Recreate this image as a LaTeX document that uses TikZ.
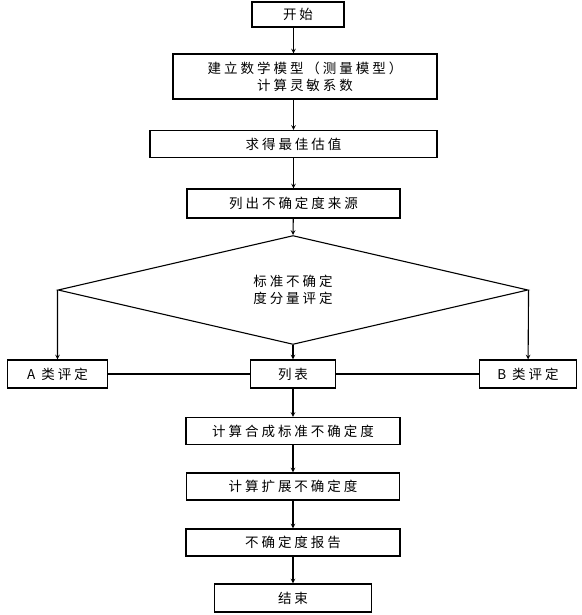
\documentclass[tikz,border=0pt]{standalone}
\usepackage{fontspec}
\setmainfont[LetterSpace=22]{Noto Sans CJK SC}
\usetikzlibrary{positioning,shapes.geometric}

\begin{document}
\begin{tikzpicture}[%
        x=1pt, y=-1pt,
        >=stealth,
        node distance=56pt,
        on grid,
        font=\fontsize{13.5pt}{17pt}\selectfont,
        every path/.style={line width=1.1pt},
        box/.style={draw, inner sep=0pt, minimum height=27pt},
        choice/.style={draw, diamond, inner sep=0pt, align=center}
        ]

        \useasboundingbox (0,0) rectangle (581,615);

        \node[box, minimum width=92pt, minimum height=25pt] (start) at (298,14.5) {开始};
        \node[box, minimum width=264pt, minimum height=45pt, align=center] (model) [below=62pt of start, xshift=7pt] {建立数学模型（测量模型）\\计算灵敏系数};
        \node[box, minimum width=287pt] (best) [below=67.5pt of model, xshift=-11.5pt] {求得最佳估值};
        \node[box, minimum width=213pt, minimum height=29pt] (source) [below=59.5pt of best] {列出不确定度来源};
        \node[choice, minimum width=470pt, minimum height=72pt] (eval) [below=86.5pt of source, xshift=-0.5pt] {标准不确定\\度分量评定};
        \node[box, minimum width=85pt, minimum height=28pt] (list) [below=84pt of eval] {列表};
        \node[box, minimum width=100pt, minimum height=28pt] (typeA) [left=235.5pt of list] {A 类评定};
        \node[box, minimum width=97pt, minimum height=28pt] (typeB) [right=235pt of list] {B 类评定};
        \node[box, minimum width=214pt] (combine) [below=57pt of list] {计算合成标准不确定度};
        \node[box, minimum width=213pt] (expand) [below=55.5pt of combine] {计算扩展不确定度};
        \node[box, minimum width=214pt] (report) [below=56pt of expand] {不确定度报告};
        \node[box, minimum width=157pt, minimum height=28pt] (end) [below=55.5pt of report] {结束};

        \draw[->] (start.south -| best) -- (model.north -| best);
        \draw[->] (model.south -| best) -- (best.north);
        \draw[->] (best) -- (source);
        \draw[->] (source) -- (eval.north);
        \draw[->] (eval.west) -- (typeA);
        \draw[->] (eval.east) -- (typeB);
        \draw[->] (eval.south) -- (list);
        \draw (typeA) -- (list);
        \draw (list) -- (typeB);
        \draw[->] (list) -- (combine);
        \draw[->] (combine) -- (expand);
        \draw[->] (expand) -- (report);
        \draw[->] (report) -- (end);

        \end{tikzpicture}
\end{document}
